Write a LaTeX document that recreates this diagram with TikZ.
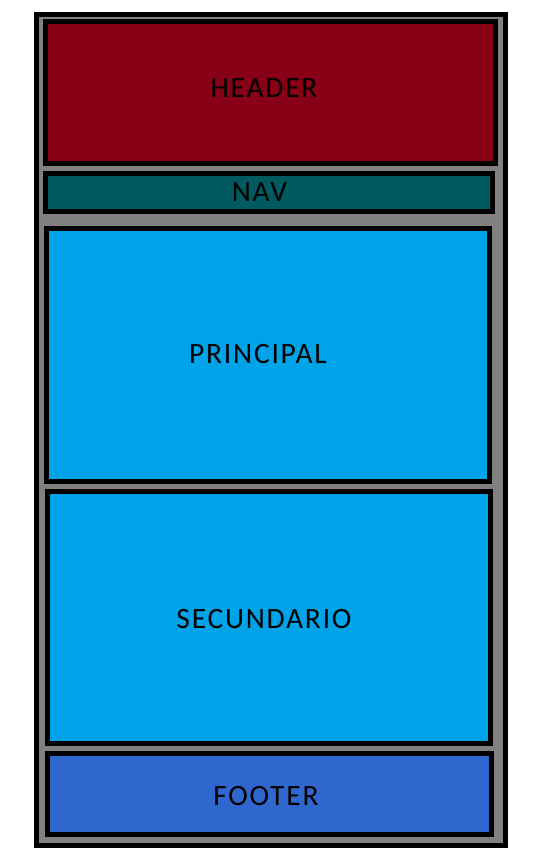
\documentclass[tikz,border=0pt]{standalone}
\usepackage{fontspec}
\setmainfont{Carlito}
\newfontfamily\blockfont[LetterSpace=6]{Carlito}
\definecolor{frame}{HTML}{808080}
\definecolor{headred}{HTML}{880015}
\definecolor{navteal}{HTML}{005A60}
\definecolor{mainblue}{HTML}{00A2E8}
\definecolor{footblue}{HTML}{3067CE}
\begin{document}
\begin{tikzpicture}[x=1pt,y=-1pt,
  region/.style={draw=black, line width=5pt, rectangle, inner sep=0pt, outer sep=0pt},
  caption/.style={font=\blockfont\fontsize{29.5}{32}\selectfont, text=black, inner sep=0pt}]
\useasboundingbox (0,0) rectangle (545,851);
% page frame
\node[region, fill=frame, minimum width=469pt, minimum height=831pt] (page) at (271,430) {};
% layout blocks
\node[region, fill=headred, minimum width=450pt, minimum height=142pt] (header) at (270.5,92.5) {};
\node[region, fill=navteal, minimum width=447pt, minimum height=38pt] (nav) at (269,192.5) {};
\node[region, fill=mainblue, minimum width=443pt, minimum height=253pt] (principal) at (268,355) {};
\node[region, fill=mainblue, minimum width=443pt, minimum height=252pt] (secundario) at (269,617.5) {};
\node[region, fill=footblue, minimum width=444pt, minimum height=81pt] (footer) at (269.5,794) {};
% block names
\node[caption] (headertext) at (264,88.5) {HEADER};
\node[caption] (navtext) at (259.5,192.5) {NAV};
\node[caption] (principaltext) at (258,354.5) {PRINCIPAL};
\node[caption] (secundariotext) at (264,619.5) {SECUNDARIO};
\node[caption] (footertext) at (266,796) {FOOTER};
\end{tikzpicture}
\end{document}
